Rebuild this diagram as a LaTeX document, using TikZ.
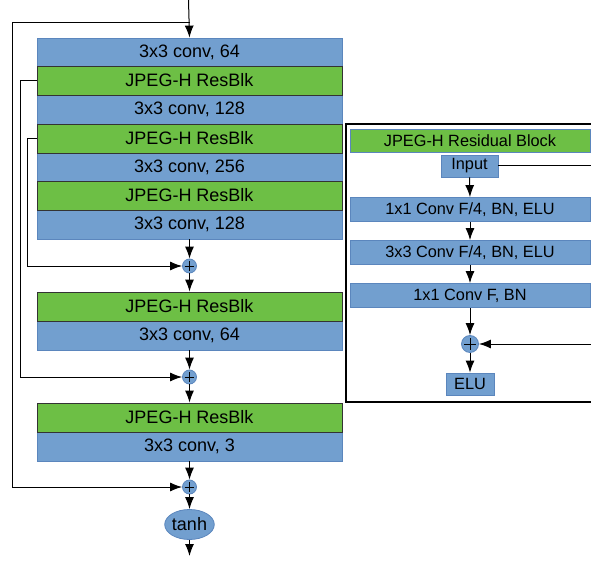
\documentclass[tikz,border=0pt]{standalone}
\usepackage{fontspec}
\setmainfont{Liberation Sans}
\usetikzlibrary{arrows.meta,shapes.geometric}
\definecolor{bfill}{HTML}{729FCF}
\definecolor{bline}{HTML}{5B86BD}
\definecolor{gfill}{HTML}{6DBF45}
\definecolor{gline}{HTML}{333333}
\begin{document}
\begin{tikzpicture}[x=1pt,y=-1pt,
  conv/.style={draw=bline,fill=bfill,line width=0.8pt,minimum width=305pt,minimum height=29pt,inner sep=0pt,font=\fontsize{18}{20}\selectfont},
  resblk/.style={draw=gline,fill=gfill,line width=0.8pt,minimum width=305pt,minimum height=29pt,inner sep=0pt,font=\fontsize{18}{20}\selectfont},
  pbox/.style={draw=bline,fill=bfill,line width=0.8pt,minimum width=240pt,minimum height=24pt,inner sep=0pt,font=\fontsize{16.3}{18}\selectfont},
  sbox/.style={draw=bline,fill=bfill,line width=0.8pt,minimum height=22pt,inner sep=0pt,font=\fontsize{16.3}{18}\selectfont},
  plus/.style={circle,draw=bline,fill=bfill,line width=0.8pt,minimum size=#1,inner sep=0pt,
    path picture={\draw[black,line width=0.8pt] ([xshift=-0.35*#1]path picture bounding box.center) -- ([xshift=0.35*#1]path picture bounding box.center)
      ([yshift=-0.35*#1]path picture bounding box.center) -- ([yshift=0.35*#1]path picture bounding box.center);}},
  arr/.style={line width=1pt,-{Latex[length=12pt,width=9pt]}},
  ln/.style={line width=1pt}
]
\useasboundingbox (0,0) rectangle (591,561);
\clip (0,0) rectangle (591,561);

% main column
\node[conv] (c1) at (189.5,52.5) {3x3 conv, 64};
\node[conv] (c2) at (189.5,109.5) {3x3 conv, 128};
\node[conv] (c3) at (189.5,167) {3x3 conv, 256};
\node[conv] (c4) at (189.5,224.5) {3x3 conv, 128};
\node[resblk] (g1) at (189.5,80.5) {JPEG-H ResBlk};
\node[resblk] (g2) at (189.5,138.5) {JPEG-H ResBlk};
\node[resblk] (g3) at (189.5,195.5) {JPEG-H ResBlk};
\node[plus=14pt] (p1) at (189.5,266) {};
\node[conv] (c5) at (189.5,335.5) {3x3 conv, 64};
\node[resblk] (g4) at (189.5,306.5) {JPEG-H ResBlk};
\node[plus=14pt] (p2) at (189.5,377) {};
\node[conv] (c6) at (189.5,446.5) {3x3 conv, 3};
\node[resblk] (g5) at (189.5,417.5) {JPEG-H ResBlk};
\node[plus=14pt] (p3) at (189.5,487) {};
\node[ellipse,draw=bline,fill=bfill,line width=0.8pt,minimum width=37pt,minimum height=30pt,inner sep=0pt,font=\fontsize{18}{20}\selectfont] (th) at (189.5,524.5) {tanh};

\coordinate (in) at (188.5,0);
\coordinate (s0) at (189.5,23);
\coordinate (k0) at (12,23);
\coordinate (out) at (189.5,556);

\draw[arr] (in) -- (c1.north);
\draw[arr] (s0) -- (k0) |- (p3.west);
\draw[arr] (g1.west) -- ++(-16,0) |- (p2.west);
\draw[arr] (g2.west) -- ++(-9.5,0) |- (p1.west);
\draw[arr] (c4.south) -- (p1.north);
\draw[arr] (p1.south) -- (g4.north);
\draw[arr] (c5.south) -- (p2.north);
\draw[arr] (p2.south) -- (g5.north);
\draw[arr] (c6.south) -- (p3.north);
\draw[arr] (p3.south) -- (th.north);
\draw[arr] (th.south) -- (out);

% right panel
\draw[line width=2pt] (600,124.5) -- (346,124.5) -- (346,402) -- (600,402);
\node[pbox,fill=gfill,draw=bline,minimum height=23pt] (rt) at (470,140.5) {JPEG-H Residual Block};
\node[sbox,minimum width=57pt] (rin) at (469.5,166) {Input};
\node[pbox] (r1) at (470,209.5) {1x1 Conv F/4, BN, ELU};
\node[pbox] (r2) at (470,252.5) {3x3 Conv F/4, BN, ELU};
\node[pbox] (r3) at (470,295.5) {1x1 Conv F, BN};
\node[plus=17pt] (rp) at (470,344) {};
\node[sbox,minimum width=48pt] (relu) at (470,384) {ELU};
\coordinate (re1) at (595,166);
\coordinate (re2) at (595,344);

\draw[arr] (rin.south) -- (r1.north);
\draw[arr] (r1.south) -- (r2.north);
\draw[arr] (r2.south) -- (r3.north);
\draw[arr] (r3.south) -- (rp.north);
\draw[arr] (rp.south) -- (relu.north);
\draw[ln] (rin.east) -- (re1);
\draw[arr] (re2) -- (rp.east);
\end{tikzpicture}
\end{document}
